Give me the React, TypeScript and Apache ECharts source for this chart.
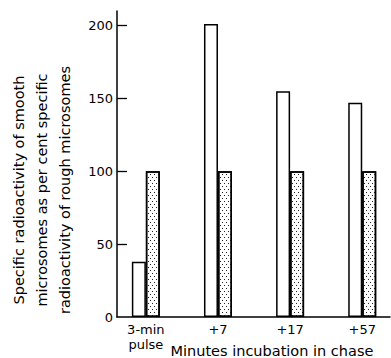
import React, { useEffect, useRef } from "react";
import * as echarts from "echarts";

const categories = ["3-min\npulse", "+7", "+17", "+57"];
const smoothValues = [38, 201, 155, 147];
const roughValues = [100, 100, 100, 100];
const yTicks = [0, 50, 100, 150, 200];

const FONT = "DejaVu Sans";

export default function App() {
  const ref = useRef<HTMLDivElement>(null);
  useEffect(() => {
    document.body.style.margin = "0";
    const chart = echarts.init(ref.current!, undefined, { renderer: "svg" });
    const positions = categories.map((_, i) => i);
    chart.setOption({
      animation: false,
      backgroundColor: "#fff",
      textStyle: { fontFamily: FONT, color: "#000" },
      grid: {
        left: 117,
        right: 1,
        top: 11,
        bottom: 41,
        containLabel: false,
        outerBoundsMode: "none",
      },
      xAxis: {
        type: "value",
        min: -0.4,
        max: 3.385,
        axisLine: { show: true, onZero: false, lineStyle: { color: "#000", width: 1.5 } },
        axisTick: { show: false },
        splitLine: { show: false },
        axisLabel: {
          customValues: positions,
          formatter: (v: number) => categories[Math.round(v)] ?? "",
          color: "#000",
          fontFamily: FONT,
          fontSize: 13,
          lineHeight: 15,
          margin: 5,
        },
        name: "Minutes incubation in chase",
        nameLocation: "end",
        nameGap: -18,
        nameTextStyle: {
          fontFamily: FONT,
          fontSize: 14.5,
          color: "#000",
          align: "right",
          verticalAlign: "top",
          padding: [26, 0, 0, 0],
        },
      },
      yAxis: {
        type: "value",
        min: 0,
        max: 210,
        axisLine: { show: true, onZero: false, lineStyle: { color: "#000", width: 1.5 } },
        axisTick: {
          show: true,
          inside: true,
          length: 10,
          customValues: yTicks.filter((t) => t > 0),
          lineStyle: { color: "#000", width: 1.3 },
        },
        splitLine: { show: false },
        axisLabel: {
          customValues: yTicks,
          color: "#000",
          fontFamily: FONT,
          fontSize: 13,
          margin: 4,
        },
        name: "Specific radioactivity of smooth\nmicrosomes as per cent specific\nradioactivity of rough microsomes",
        nameLocation: "middle",
        nameGap: 41,
        nameTextStyle: {
          fontFamily: FONT,
          fontSize: 14.5,
          lineHeight: 23,
          color: "#000",
          padding: [0, 52, 0, 0],
        },
      },
      series: [
        {
          type: "bar",
          name: "smooth",
          data: positions.map((p, i) => [p, smoothValues[i]]),
          barWidth: 14,
          barGap: "0%",
          itemStyle: { color: "#fff", borderColor: "#000", borderWidth: 1.5 },
        },
        {
          type: "bar",
          name: "rough",
          data: positions.map((p, i) => [p, roughValues[i]]),
          barWidth: 14,
          barGap: "0%",
          itemStyle: {
            color: "#fff",
            borderColor: "#000",
            borderWidth: 1.5,
            decal: {
              symbol: "rect",
              symbolSize: 1,
              color: "#222",
              dashArrayX: [
                [1, 2.5],
                [0, 1.8, 1, 0.7],
              ],
              dashArrayY: [1, 1.6],
              rotation: 0,
            },
          },
        },
      ],
    });
    return () => chart.dispose();
  }, []);
  return (
    <div
      ref={ref}
      style={{ width: 391, height: 358, position: "absolute", left: 0, top: 0 }}
    />
  );
}
